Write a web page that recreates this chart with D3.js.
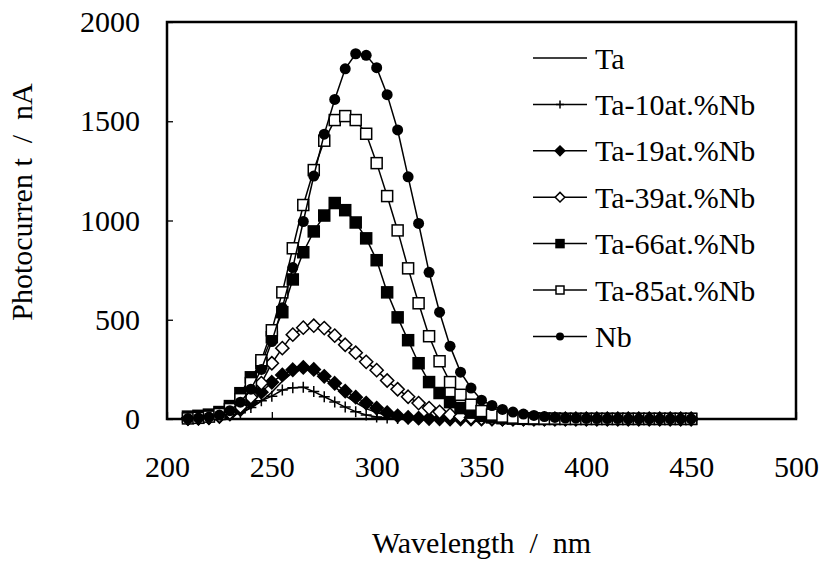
<!DOCTYPE html>
<html>
<head>
<meta charset="utf-8">
<script src="https://cdn.jsdelivr.net/npm/d3@7"></script>
<style>
  body { margin: 0; background: #fff; }
  svg text { font-family: "Liberation Serif", "DejaVu Serif", "Times New Roman", serif !important; }
</style>
</head>
<body>
<svg id="chart"></svg>
<script>
// wavelength (nm) of every measured point
const wavelengths = [210, 215, 220, 225, 230, 235, 240, 245, 250, 255, 260, 265, 270, 275, 280, 285, 290, 295, 300, 305,
    310, 315, 320, 325, 330, 335, 340, 345, 350, 355, 360, 365, 370, 375, 380, 385, 390, 395, 400, 405,
    410, 415, 420, 425, 430, 435, 440, 445, 450];

// photocurrent (nA)
const ta = [0, 1, 3, 7, 15, 30, 55, 90, 135, 190, 235, 252, 240, 205, 162, 118, 82, 52, 32, 18,
    9, 5, 2, 1, 0, 0, 0, 0, 0, 0, 0, 0, 0, 0, 0, 0, 0, 0, 0, 0,
    0, 0, 0, 0, 0, 0, 0, 0, 0];
const ta10 = [3, 5, 8, 12, 20, 32, 58, 92, 115, 146, 158, 160, 138, 112, 86, 60, 37, 20, 10, 5,
    2, 1, 0, 0, 0, 0, 0, 0, 0, 0, 0, 0, 0, 0, 0, 0, 0, 0, 0, 0,
    0, 0, 0, 0, 0, 0, 0, 0, 0];
const ta19 = [2, 3, 6, 12, 25, 48, 85, 135, 185, 222, 248, 260, 250, 215, 180, 140, 110, 80, 55, 32,
    16, 8, 4, 2, 1, 0, 0, 0, 0, 0, 0, 0, 0, 0, 0, 0, 0, 0, 0, 0,
    0, 0, 0, 0, 0, 0, 0, 0, 0];
const ta39 = [2, 4, 8, 16, 32, 62, 110, 181, 281, 357, 425, 460, 470, 458, 420, 374, 334, 288, 246, 194,
    150, 112, 80, 55, 36, 22, 13, 7, 3, 1, 0, 0, 0, 0, 0, 0, 0, 0, 0, 0,
    0, 0, 0, 0, 0, 0, 0, 0, 0];
const ta66 = [12, 16, 22, 35, 65, 130, 210, 281, 412, 538, 703, 840, 945, 1025, 1088, 1052, 990, 910, 800, 638,
    512, 397, 281, 186, 131, 85, 55, 32, 16, 8, 4, 2, 1, 0, 0, 0, 0, 0, 0, 0,
    0, 0, 0, 0, 0, 0, 0, 0, 0];
const ta85 = [3, 6, 12, 25, 50, 100, 181, 296, 447, 638, 860, 1078, 1254, 1402, 1506, 1526, 1506, 1437, 1289, 1123,
    950, 759, 583, 417, 291, 186, 122, 72, 40, 22, 12, 7, 4, 3, 2, 2, 1, 1, 1, 1,
    1, 1, 1, 1, 1, 1, 1, 1, 1];
const nb = [2, 5, 10, 20, 42, 85, 150, 250, 390, 560, 763, 995, 1224, 1435, 1610, 1764, 1840, 1832, 1770, 1634,
    1456, 1220, 985, 739, 538, 367, 236, 156, 95, 68, 48, 35, 25, 18, 12, 8, 5, 4, 3, 2,
    2, 2, 1, 1, 1, 1, 1, 1, 1];

const seriesNames = ["Ta", "Ta-10at.%Nb", "Ta-19at.%Nb", "Ta-39at.%Nb", "Ta-66at.%Nb", "Ta-85at.%Nb", "Nb"];
const seriesValues = [ta, ta10, ta19, ta39, ta66, ta85, nb];
const seriesMarkers = ["none", "plus", "diamond", "diamondOpen", "square", "squareOpen", "circle"];

const xTicks = [200, 250, 300, 350, 400, 450, 500];
const yTicks = [0, 500, 1000, 1500, 2000];

const svgWidth = 821, svgHeight = 562;
const plot = {left: 167, right: 796, top: 22, bottom: 419};

const chart = d3.select("#chart")
    .attr("width", svgWidth)
    .attr("height", svgHeight);

var xScale = d3.scaleLinear().domain([200, 500]).range([plot.left, plot.right]);
var yScale = d3.scaleLinear().domain([0, 2000]).range([plot.bottom, plot.top]);

// ticks point into the plot, labels sit well away from the frame
var xAxis = d3.axisBottom(xScale).tickValues(xTicks).tickFormat(d3.format("d")).tickSize(-7).tickPadding(37);
var yAxis = d3.axisLeft(yScale).tickValues(yTicks).tickFormat(d3.format("d")).tickSize(-6).tickPadding(27);

chart.append("g")
    .attr("transform", "translate(0," + plot.bottom + ")")
    .call(xAxis)
    .call(g => g.select(".domain").remove())
    .call(g => g.selectAll("line").attr("stroke", "#000").attr("stroke-width", 1.3))
    .call(g => g.selectAll("text").attr("font-size", 30).attr("fill", "#000"));

chart.append("g")
    .attr("transform", "translate(" + plot.left + ",0)")
    .call(yAxis)
    .call(g => g.select(".domain").remove())
    .call(g => g.selectAll("line").attr("stroke", "#000").attr("stroke-width", 1.3))
    .call(g => g.selectAll("text").attr("font-size", 30).attr("fill", "#000"));

// plot frame
chart.append("rect")
    .attr("x", plot.left)
    .attr("y", plot.top)
    .attr("width", plot.right - plot.left)
    .attr("height", plot.bottom - plot.top)
    .attr("fill", "none")
    .attr("stroke", "#000")
    .attr("stroke-width", 2.5);

// axis titles
chart.append("text")
    .attr("x", (plot.left + plot.right) / 2)
    .attr("y", 553)
    .attr("text-anchor", "middle")
    .attr("font-size", 30)
    .style("white-space", "pre")
    .text("Wavelength  /  nm");

chart.append("text")
    .attr("transform", "translate(32,202) rotate(-90)")
    .attr("text-anchor", "middle")
    .attr("font-size", 30)
    .style("white-space", "pre")
    .text("Photocurren t  /  nA");

// marker shapes, drawn around (0,0)
function drawMarker(sel, kind, s) {
    if (kind == "none") return;
    if (kind == "circle") {
        sel.append("circle").attr("r", s).attr("fill", "#000");
    } else if (kind == "square" || kind == "squareOpen") {
        sel.append("rect")
            .attr("x", -s).attr("y", -s).attr("width", 2 * s).attr("height", 2 * s)
            .attr("fill", kind == "square" ? "#000" : "#fff")
            .attr("stroke", "#000").attr("stroke-width", 1.5);
    } else if (kind == "diamond" || kind == "diamondOpen") {
        var d = s * 1.2;
        sel.append("path")
            .attr("d", "M0," + (-d) + "L" + d + ",0L0," + d + "L" + (-d) + ",0Z")
            .attr("fill", kind == "diamond" ? "#000" : "#fff")
            .attr("stroke", "#000").attr("stroke-width", 1.5);
    } else if (kind == "plus") {
        sel.append("path")
            .attr("d", "M0," + (-s) + "V" + s + "M" + (-s) + ",0H" + s)
            .attr("stroke", "#000").attr("stroke-width", 1.5);
    }
}

var valueline = d3.line()
    .x(function(d) { return xScale(d.w); })
    .y(function(d) { return yScale(d.v); });

seriesValues.forEach(function(values, i) {
    var points = wavelengths.map(function(w, j) { return {w: w, v: values[j]}; });
    var g = chart.append("g").attr("class", "series");

    g.append("path")
        .datum(points)
        .attr("d", valueline)
        .attr("fill", "none")
        .attr("stroke", "#000")
        .attr("stroke-width", 1.5);

    g.selectAll(".marker")
        .data(points)
        .enter()
        .append("g")
        .attr("class", "marker")
        .attr("transform", function(d) { return "translate(" + xScale(d.w) + "," + yScale(d.v) + ")"; })
        .each(function() { drawMarker(d3.select(this), seriesMarkers[i], 5.5); });
});

// legend inside the frame
var legend = chart.append("g").attr("class", "legend");
seriesNames.forEach(function(name, i) {
    var row = legend.append("g").attr("transform", "translate(533," + (58 + i * 46.4) + ")");
    row.append("line")
        .attr("x1", 0).attr("x2", 54)
        .attr("stroke", "#000").attr("stroke-width", 1.5);
    drawMarker(row.append("g").attr("transform", "translate(27,0)"), seriesMarkers[i], 4);
    row.append("text")
        .attr("x", 62)
        .attr("dy", "0.35em")
        .attr("font-size", 30)
        .text(name);
});
</script>
</body>
</html>
